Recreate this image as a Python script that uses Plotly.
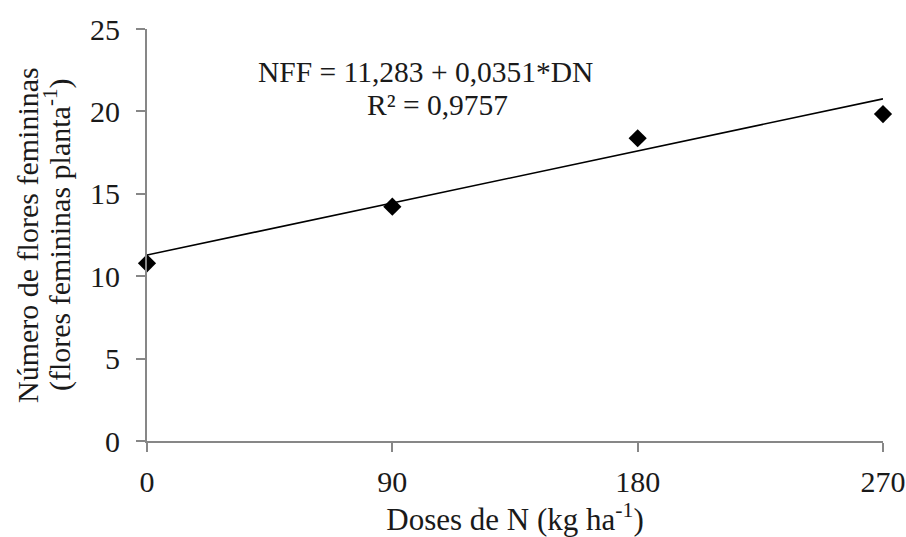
import plotly.graph_objects as go

# Nitrogen doses (kg/ha) and observed number of female flowers per plant
doses = [0, 90, 180, 270]
flores = [10.78, 14.22, 18.37, 19.84]

# Fitted linear model NFF = a + b*DN
intercept = 11.283
slope = 0.0351
r2 = 0.9757

x_ticks = [0, 90, 180, 270]
y_ticks = [0, 5, 10, 15, 20, 25]

FONT = "Liberation Serif"
AXIS_COLOR = "#878787"

fit_x = [min(doses), max(doses)]
fit_y = [intercept + slope * v for v in fit_x]

fig = go.Figure()
fig.add_trace(go.Scatter(
    x=fit_x, y=fit_y, mode="lines",
    line=dict(color="black", width=1.6),
    showlegend=False, hoverinfo="skip",
))
fig.add_trace(go.Scatter(
    x=doses, y=flores, mode="markers",
    marker=dict(symbol="diamond", size=14, color="black"),
    showlegend=False, cliponaxis=False,
))

fig.update_layout(
    width=906, height=537,
    margin=dict(l=147, r=23, t=29, b=96),
    paper_bgcolor="white", plot_bgcolor="white",
    font=dict(family=FONT, size=30, color="#1a1a1a"),
    xaxis=dict(
        range=[0, 270], tickvals=x_ticks, ticktext=[str(v) for v in x_ticks],
        showgrid=False, zeroline=False, automargin=False,
        showline=True, linecolor=AXIS_COLOR, linewidth=2,
        ticks="outside", ticklen=9, tickwidth=1.5, tickcolor=AXIS_COLOR,
        ticklabelstandoff=4,
        tickfont=dict(family=FONT, size=30),
        title=dict(text="Doses de N (kg ha<sup>-1</sup>)", standoff=20,
                   font=dict(family=FONT, size=31)),
    ),
    yaxis=dict(
        range=[0, 25], tickvals=y_ticks, ticktext=[str(v) for v in y_ticks],
        showgrid=False, zeroline=False, automargin=False,
        showline=True, linecolor=AXIS_COLOR, linewidth=2,
        ticks="outside", ticklen=9, tickwidth=1.5, tickcolor=AXIS_COLOR,
        ticklabelstandoff=10,
        tickfont=dict(family=FONT, size=30),
    ),
)

# Two-line y-axis title
fig.add_annotation(
    text="Número de flores femininas", textangle=-90,
    xref="paper", yref="paper", x=0, y=0.5, xshift=-120,
    xanchor="center", yanchor="middle", showarrow=False,
    font=dict(family=FONT, size=30),
)
fig.add_annotation(
    text="(flores femininas planta<sup>-1</sup>)", textangle=-90,
    xref="paper", yref="paper", x=0, y=0.5, xshift=-90,
    xanchor="center", yanchor="middle", showarrow=False,
    font=dict(family=FONT, size=30),
)

# Regression equation and coefficient of determination
eq_text = f"NFF = {intercept:.3f}".replace(".", ",") + f" + {slope:.4f}".replace(".", ",") + "*DN"
fig.add_annotation(
    text=eq_text, x=102, y=22.4, xref="x", yref="y",
    showarrow=False, font=dict(family=FONT, size=29.5),
)
fig.add_annotation(
    text=f"R² = {r2:.4f}".replace(".", ","), x=106.5, y=20.4, xref="x", yref="y",
    showarrow=False, font=dict(family=FONT, size=29.5),
)

fig.write_html("out.html")
